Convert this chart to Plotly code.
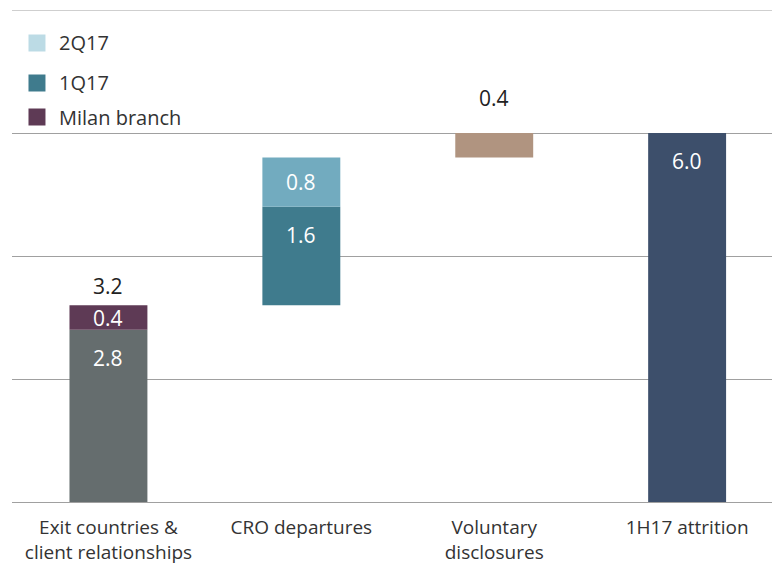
import plotly.graph_objects as go

categories = ["Exit countries &<br>client relationships", "CRO departures", "Voluntary<br>disclosures", "1H17 attrition"]
exit_core = 2.8
milan_branch = 0.4
q1_17 = 1.6
q2_17 = 0.8
voluntary = 0.4
attrition = 6.0
legend_labels = ["2Q17", "1Q17", "Milan branch"]

FONT = "Open Sans"
C_GRAY = "#656d6e"
C_PURPLE = "#5e3a55"
C_TEAL = "#3f7b8d"
C_LTEAL = "#72abbf"
C_TAN = "#b09480"
C_NAVY = "#3d4f6b"
LEG_COLORS = ["#bcdbe5", C_TEAL, C_PURPLE]

W, H = 772, 565
ML, MR, MT, MB = 11.5, 0, 10, 63
BW = 0.404
YMAX = 8.0

fig = go.Figure()
ann = []

def bar(x, base, val, color, label=True, mid=False):
    fig.add_trace(go.Bar(
        x=[x], y=[val], base=[base], width=BW,
        marker=dict(color=color, line=dict(width=0)),
        showlegend=False, hoverinfo="skip",
    ))
    if label:
        if mid:
            ann.append(dict(x=x, y=base + val / 2, xref="x", yref="y", text=f"{val:.1f}",
                            showarrow=False, yanchor="middle",
                            font=dict(family=FONT, size=21, color="white")))
        else:
            ann.append(dict(x=x, y=base + val, xref="x", yref="y", text=f"{val:.1f}",
                            showarrow=False, yanchor="middle", yshift=-28,
                            font=dict(family=FONT, size=21, color="white")))

bar(0, 0, exit_core, C_GRAY)
bar(0, exit_core, milan_branch, C_PURPLE, mid=True)
bar(1, exit_core + milan_branch, q1_17, C_TEAL)
bar(1, exit_core + milan_branch + q1_17, q2_17, C_LTEAL, mid=True)
start3 = exit_core + milan_branch + q1_17 + q2_17
bar(2, start3, voluntary, C_TAN, label=False)
bar(3, 0, attrition, C_NAVY)

ann.append(dict(x=0, y=exit_core + milan_branch, xref="x", yref="y", text=f"{exit_core + milan_branch:.1f}",
                showarrow=False, yanchor="middle", yshift=19,
                font=dict(family=FONT, size=21, color="#222")))
ann.append(dict(x=2, y=start3 + voluntary, xref="x", yref="y", text=f"{voluntary:.1f}",
                showarrow=False, yanchor="middle", yshift=35,
                font=dict(family=FONT, size=21, color="#222")))

pw = W - ML - MR
ph = H - MT - MB
def px(xp):
    return (xp - ML) / pw
def py(yp):
    return (H - MB - yp) / ph

shapes = []
leg_y = [43, 83, 117]
for lab, col, yy in zip(legend_labels, LEG_COLORS, leg_y):
    shapes.append(dict(type="rect", xref="paper", yref="paper",
                       x0=px(28), x1=px(45), y0=py(yy + 8.5), y1=py(yy - 8.5),
                       fillcolor=col, line=dict(width=0), layer="above"))
    ann.append(dict(x=px(57), y=py(yy), xref="paper", yref="paper", text=lab,
                    showarrow=False, xanchor="left", yanchor="middle",
                    font=dict(family=FONT, size=20, color="#333")))
# top gridline (at edge of plotting area)
shapes.append(dict(type="line", xref="paper", yref="y", x0=0, x1=1, y0=YMAX, y1=YMAX,
                   line=dict(color="#a0a0a0", width=1), layer="below"))

fig.update_layout(
    width=W, height=H,
    margin=dict(l=ML, r=MR, t=MT, b=MB, pad=0, autoexpand=False),
    paper_bgcolor="white", plot_bgcolor="white",
    barmode="overlay",
    showlegend=False,
    shapes=shapes,
    annotations=ann,
    xaxis=dict(range=[-0.5, 3.44], tickvals=[0, 1, 2, 3], ticktext=categories,
               showgrid=False, zeroline=False, showline=False, ticks="",
               ticklabelstandoff=12,
               tickfont=dict(family=FONT, size=19, color="#333"), fixedrange=True,
               automargin=False),
    yaxis=dict(range=[0, YMAX], tickvals=[0, 2, 4, 6, 8], showticklabels=False,
               showgrid=True, gridcolor="#a0a0a0", gridwidth=1,
               zeroline=True, zerolinecolor="#a0a0a0", zerolinewidth=1,
               showline=False, ticks="", fixedrange=True, automargin=False),
)

fig.write_html("out.html", config={"displayModeBar": False},
               post_script="document.body.style.margin='0';")
